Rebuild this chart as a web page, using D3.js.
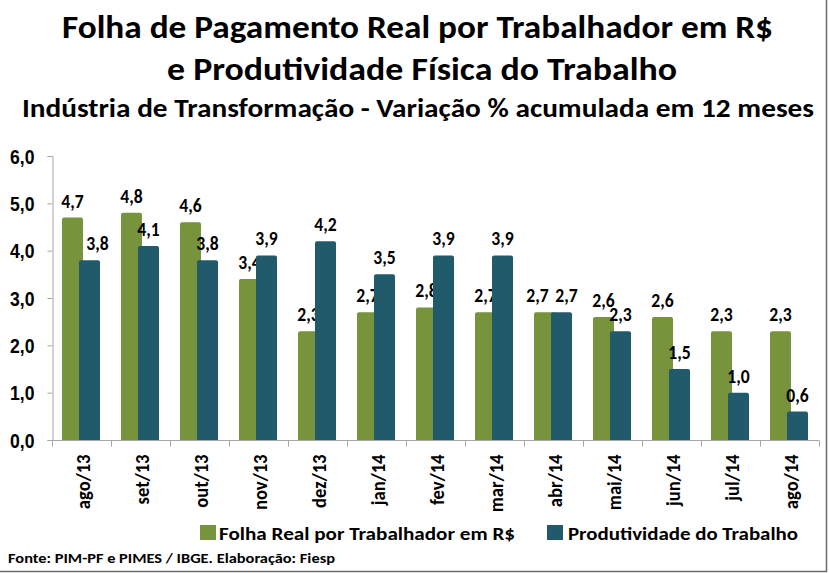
<!DOCTYPE html>
<html>
<head>
<meta charset="utf-8">
<script src="https://cdn.jsdelivr.net/npm/d3@7"></script>
<style>
  html, body { margin: 0; padding: 0; background: #fff; }
  svg { display: block; font-family: Carlito, Calibri, Lato, "Liberation Sans", sans-serif; font-weight: bold; }
</style>
</head>
<body>
<svg id="chart" width="829" height="573"></svg>
<script>
const categories = ["ago/13","set/13","out/13","nov/13","dez/13","jan/14","fev/14","mar/14","abr/14","mai/14","jun/14","jul/14","ago/14"];
const folha = [4.7, 4.8, 4.6, 3.4, 2.3, 2.7, 2.8, 2.7, 2.7, 2.6, 2.6, 2.3, 2.3];
const produtividade = [3.8, 4.1, 3.8, 3.9, 4.2, 3.5, 3.9, 3.9, 2.7, 2.3, 1.5, 1.0, 0.6];
const yTicks = [0, 1, 2, 3, 4, 5, 6];
const seriesNames = ["Folha Real por Trabalhador em R$", "Produtividade do Trabalho"];
const colors = ["#77933c", "#215a6b"];
const titleLines = ["Folha de Pagamento Real por Trabalhador em R$", "e Produtividade Física do Trabalho"];
const subtitle = "Indústria de Transformação - Variação % acumulada em 12 meses";
const source = "Fonte: PIM-PF e PIMES / IBGE. Elaboração: Fiesp";

// manual label nudges (presentation only), keyed "series-index"
const labelNudge = { "1-0": 8, "0-8": -7, "1-8": 5 };

const svg = d3.select("#chart");
const fmt = v => d3.format(".1f")(v).replace(".", ",");

function fitText(sel, target) {
  sel.attr("textLength", target).attr("lengthAdjust", "spacingAndGlyphs");
}
function narrow(sel, factor) {
  sel.each(function () {
    const w = this.getComputedTextLength();
    d3.select(this).attr("textLength", w * factor).attr("lengthAdjust", "spacingAndGlyphs");
  });
}

// Titles
svg.append("text").attr("x", 417.5).attr("y", 38).attr("text-anchor", "middle")
  .style("font-size", "33px").text(titleLines[0]).call(fitText, 711);
svg.append("text").attr("x", 422).attr("y", 80).attr("text-anchor", "middle")
  .style("font-size", "33px").text(titleLines[1]).call(fitText, 510);
svg.append("text").attr("x", 418).attr("y", 117).attr("text-anchor", "middle")
  .style("font-size", "26px").text(subtitle).call(fitText, 792);

// Scales
const x0 = d3.scaleBand().domain(categories).range([52, 819]).paddingInner(0).paddingOuter(0);
const y = d3.scaleLinear().domain([0, 6]).range([440, 156]);
const barW = 21;
const offsets = [-9, 8];

// Y axis
const yAxis = d3.axisLeft(y).tickValues(yTicks).tickSize(5).tickFormat(fmt);
const yg = svg.append("g").attr("transform", "translate(52.5,0)").call(yAxis);
yg.select(".domain").attr("stroke", "#a6a6a6");
yg.selectAll(".tick line").attr("stroke", "#a6a6a6");
yg.selectAll(".tick text").attr("x", -18).attr("dy", "0.35em")
  .style("font-size", "20px").style("font-family", "inherit").style("font-weight", "bold").attr("fill", "#000")
  .call(narrow, 0.88);

// Bars and labels
const series = [folha, produtividade];
series.forEach((vals, si) => {
  const g = svg.append("g");
  g.selectAll("path").data(vals).join("path")
    .attr("fill", colors[si])
    .attr("d", (v, i) => {
      const cx = x0(categories[i]) + x0.bandwidth() / 2 + offsets[si];
      const x1 = cx - barW / 2, x2 = cx + barW / 2;
      const yt = y(v), yb = y(0);
      const r = 2;
      return `M${x1},${yb}L${x1},${yt + r}Q${x1},${yt} ${x1 + r},${yt}L${x2 - r},${yt}Q${x2},${yt} ${x2},${yt + r}L${x2},${yb}Z`;
    });
  g.selectAll("text").data(vals).join("text")
    .attr("x", (v, i) => x0(categories[i]) + x0.bandwidth() / 2 + offsets[si] + (labelNudge[si + "-" + i] || 0))
    .attr("y", v => y(v) - 10)
    .attr("text-anchor", "middle")
    .style("font-size", "20px")
    .attr("fill", "#000")
    .text(fmt)
    .call(narrow, 0.88);
});

// X axis
const xg = svg.append("g").attr("transform", "translate(0,440.5)");
xg.append("line").attr("x1", 52).attr("x2", 819).attr("stroke", "#a6a6a6");
const bounds = d3.range(categories.length + 1).map(i => 52 + i * x0.bandwidth());
xg.selectAll("line.tk").data(bounds).join("line").attr("class", "tk")
  .attr("x1", d => Math.round(d) + 0.5).attr("x2", d => Math.round(d) + 0.5)
  .attr("y1", 0).attr("y2", 6).attr("stroke", "#a6a6a6");
xg.selectAll("text").data(categories).join("text")
  .attr("transform", d => `translate(${x0(d) + x0.bandwidth() / 2 + 8},14) rotate(-90)`)
  .attr("text-anchor", "end")
  .style("font-size", "20px")
  .attr("fill", "#000")
  .text(d => d)
  .call(narrow, 0.93);

// Legend
const legend = [
  { sx: 200, tx: 219, tw: 296 },
  { sx: 547, tx: 568, tw: 230 }
];
legend.forEach((l, i) => {
  svg.append("rect").attr("x", l.sx).attr("y", 525).attr("width", 16).attr("height", 15)
    .attr("fill", colors[i]);
  svg.append("text").attr("x", l.tx).attr("y", 540).style("font-size", "19px")
    .text(seriesNames[i]).call(fitText, l.tw);
});

// Source
svg.append("text").attr("x", 8).attr("y", 563).style("font-size", "14px")
  .text(source).call(fitText, 327);

// Frame (right and bottom)
svg.append("line").attr("x1", 826.5).attr("x2", 826.5).attr("y1", 0).attr("y2", 572).attr("stroke", "#6b6b6b").attr("stroke-width", 1.5);
svg.append("line").attr("x1", 0).attr("x2", 827).attr("y1", 571.5).attr("y2", 571.5).attr("stroke", "#6b6b6b").attr("stroke-width", 1.5);
</script>
</body>
</html>
